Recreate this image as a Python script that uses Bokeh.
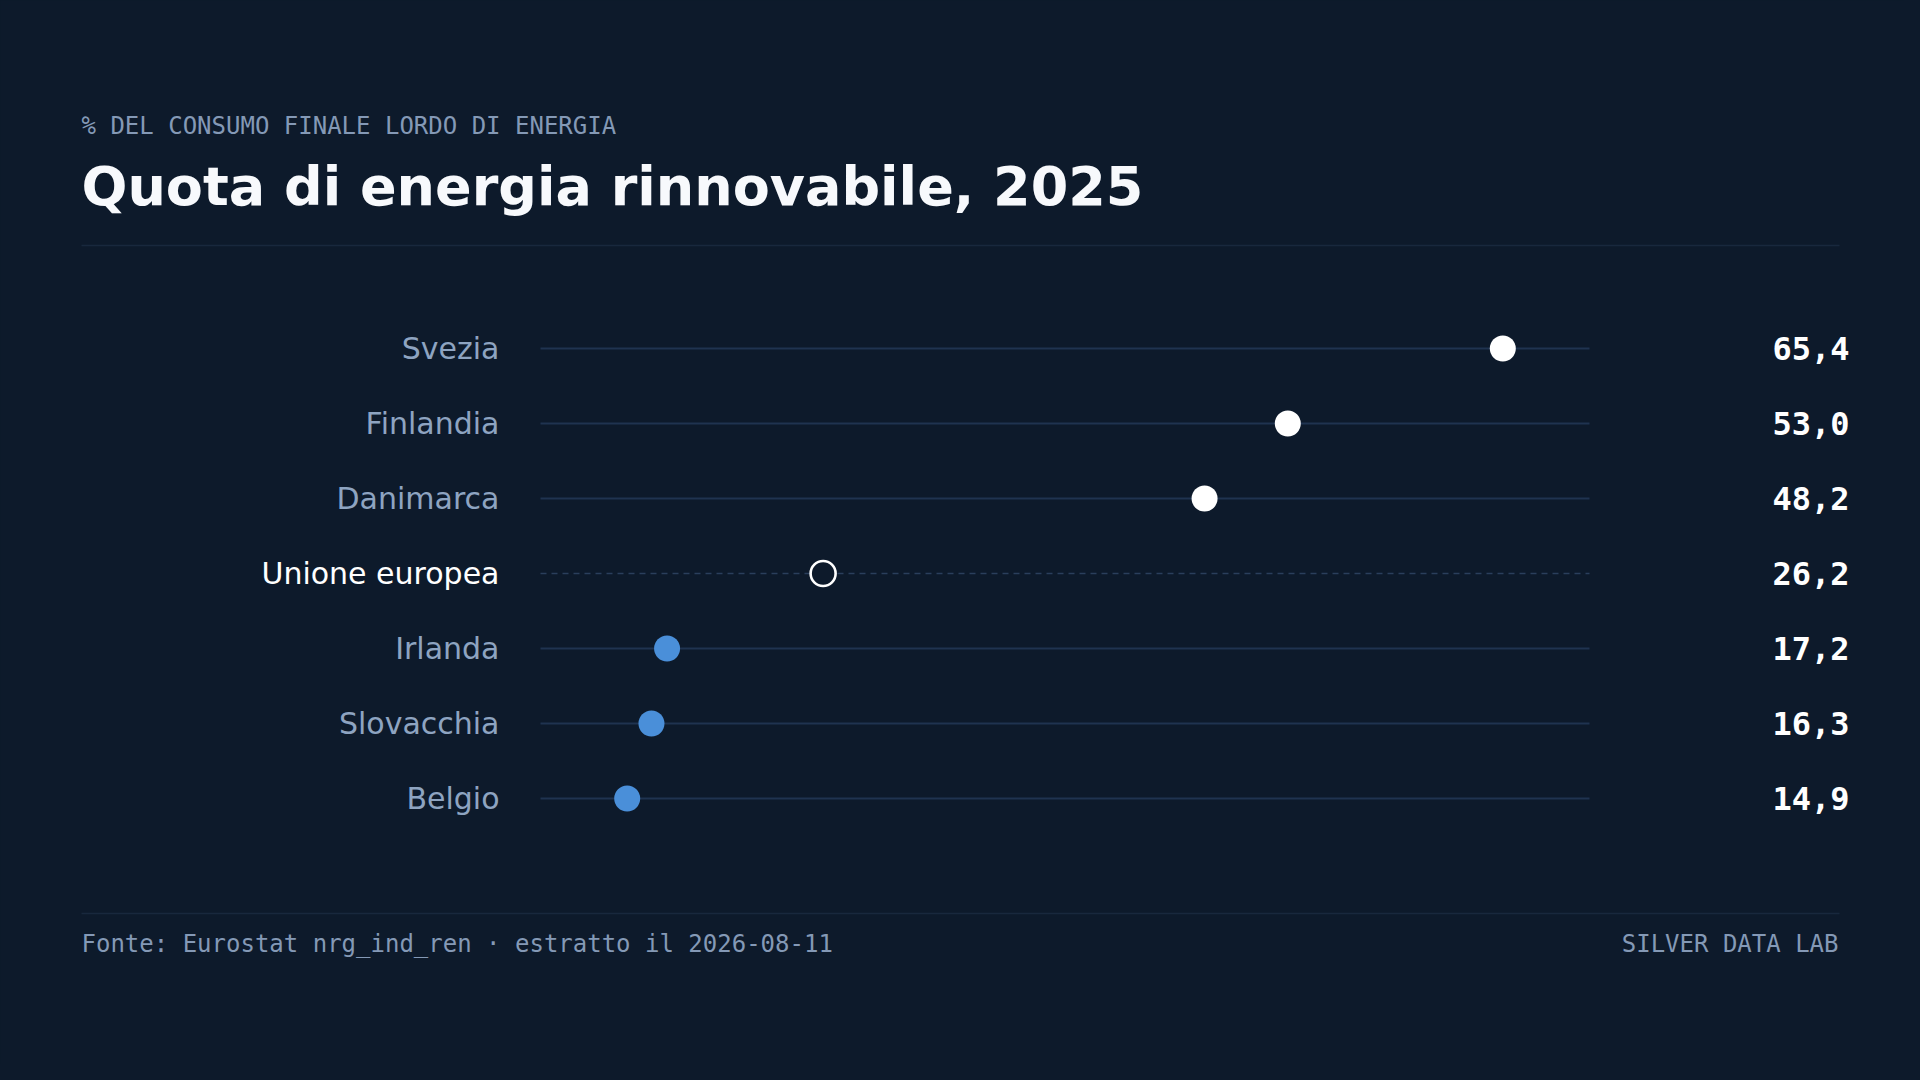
from bokeh.plotting import figure
from bokeh.models import Range1d, Label, ColumnDataSource
from bokeh.core.properties import value
from bokeh.embed import file_html
from bokeh.resources import INLINE

# ---- data ----
countries = ["Svezia", "Finlandia", "Danimarca", "Unione europea", "Irlanda", "Slovacchia", "Belgio"]
shares = [65.4, 53.0, 48.2, 26.2, 17.2, 16.3, 14.9]
reference_name = "Unione europea"
subtitle_text = "% DEL CONSUMO FINALE LORDO DI ENERGIA"
title_text = "Quota di energia rinnovabile, 2025"
source_text = "Fonte: Eurostat nrg_ind_ren · estratto il 2026-08-11"
brand_text = "SILVER DATA LAB"

# ---- styles / layout ----
W, H = 1904, 1064
BG = "#0d1a2b"
MUTED = "#8499b6"
LABEL = "#8ea4c1"
WHITE = "#ffffff"
BLUE = "#4a8fd9"
TRACK = "#1f3350"
TRACK_DASH = "#2a3f5c"
RULE = "#18283d"

SANS = value("DejaVu Sans")
MONO = value("DejaVu Sans Mono")

p = figure(width=W, height=H, x_range=Range1d(0, W), y_range=Range1d(H, 0),
           output_backend="svg", toolbar_location=None, min_border=0,
           x_axis_location=None, y_axis_location=None,
           background_fill_color=BG, border_fill_color=BG, outline_line_color=None)
p.grid.visible = False

# value scale mapped onto the track area
lo, hi = min(shares) - 5, max(shares) + 5
track_left, track_right = 540, 1589
k = (track_right - track_left) / (hi - lo)
p.extra_x_ranges["val"] = Range1d(lo - track_left / k, lo + (W - track_left) / k)

row0, step = 348, 75
p.extra_y_ranges["row"] = Range1d(start=(H - row0) / step, end=-row0 / step)

n = len(countries)
idx = list(range(n))
ref_val = shares[countries.index(reference_name)]

is_ref = [c == reference_name for c in countries]
src_norm = ColumnDataSource(dict(
    y=[i for i in idx if not is_ref[i]],
    x=[shares[i] for i in idx if not is_ref[i]],
    color=[WHITE if shares[i] > ref_val else BLUE for i in idx if not is_ref[i]],
))
src_ref = ColumnDataSource(dict(
    y=[i for i in idx if is_ref[i]],
    x=[shares[i] for i in idx if is_ref[i]],
))

# tracks
p.segment(x0=lo, x1=hi, y0="y", y1="y", source=src_norm, line_color=TRACK, line_width=2,
          x_range_name="val", y_range_name="row")
p.segment(x0=lo, x1=hi, y0="y", y1="y", source=src_ref, line_color=TRACK_DASH, line_width=1.6,
          line_dash="6 5", x_range_name="val", y_range_name="row")

# dots
p.scatter(x="x", y="y", source=src_norm, size=26, fill_color="color", line_color=None,
          x_range_name="val", y_range_name="row")
p.scatter(x="x", y="y", source=src_ref, size=25, fill_color=BG, line_color=WHITE, line_width=2.6,
          x_range_name="val", y_range_name="row")

# country labels
p.text(x=499, y=idx, text=countries, text_font=SANS, text_font_size="30px",
       text_color=[WHITE if r else LABEL for r in is_ref],
       text_align="right", text_baseline="middle", y_range_name="row")

# value labels
vals_txt = [f"{v:.1f}".replace(".", ",") for v in shares]
p.text(x=1849, y=idx, text=vals_txt, text_font=MONO, text_font_size="32px",
       text_font_style="bold", text_color=WHITE, text_align="right",
       text_baseline="middle", y_range_name="row")

# header
p.add_layout(Label(x=81, y=125, text=subtitle_text, text_font="DejaVu Sans Mono", text_font_size="24px",
                   text_color=MUTED, text_baseline="alphabetic"))
p.add_layout(Label(x=81, y=186, text=title_text, text_font="DejaVu Sans", text_font_size="54px",
                   text_font_style="bold", text_color="#f7f9fc", text_baseline="alphabetic"))

# rules
p.segment(x0=[81, 81], x1=[1839, 1839], y0=[245, 913], y1=[245, 913], line_color=RULE, line_width=1.5)

# footer
p.add_layout(Label(x=81, y=943, text=source_text, text_font="DejaVu Sans Mono", text_font_size="24px",
                   text_color=MUTED, text_baseline="alphabetic"))
p.add_layout(Label(x=1838, y=943, text=brand_text, text_font="DejaVu Sans Mono", text_font_size="24px",
                   text_color=MUTED, text_baseline="alphabetic", text_align="right"))

html = file_html(p, INLINE)
html = html.replace("<head>", "<head><style>html,body{background:%s;}</style>" % BG, 1)
open("out.html", "w").write(html)
